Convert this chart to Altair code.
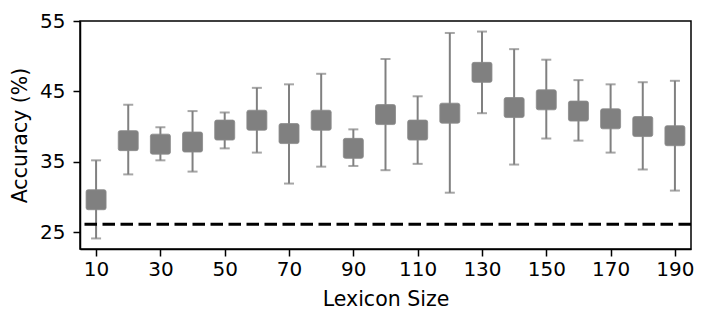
import altair as alt
import pandas as pd

sizes = [10, 20, 30, 40, 50, 60, 70, 80, 90, 100, 110, 120, 130, 140, 150, 160, 170, 180, 190]
means = [29.6, 38.0, 37.5, 37.8, 39.5, 40.9, 39.0, 40.9, 36.9, 41.7, 39.5, 41.9, 47.7, 42.7, 43.8, 42.2, 41.1, 40.0, 38.7]
upper = [35.2, 43.1, 39.9, 42.2, 42.0, 45.5, 46.0, 47.5, 39.6, 49.6, 44.3, 53.3, 53.5, 51.0, 49.5, 46.6, 46.0, 46.3, 46.5]
lower = [24.1, 33.2, 35.2, 33.6, 36.9, 36.3, 31.9, 34.3, 34.4, 33.8, 34.7, 30.6, 41.9, 34.6, 38.3, 38.0, 36.3, 33.9, 30.9]
chance = 26.1
x_ticks = list(range(10, 200, 10))
y_ticks = [25, 30, 35, 40, 45, 50, 55]

df = pd.DataFrame({"size": sizes, "mean": means, "hi": upper, "lo": lower})

FONT = "DejaVu Sans"
GRAY = "#808080"

xscale = alt.Scale(domain=[5, 195], nice=False, zero=False)
yscale = alt.Scale(domain=[22.6, 55], nice=False, zero=False)

xenc = alt.X(
    "size:Q", scale=xscale, title="Lexicon Size",
    axis=alt.Axis(values=x_ticks,
                  labelExpr="(datum.value - 10) % 20 == 0 ? datum.label : ''",
                  labelFlush=False, labelOverlap=False, labelPadding=3, titlePadding=10),
)
yaxis = alt.Axis(values=y_ticks,
                 labelExpr="datum.value % 10 == 5 ? datum.label : ''",
                 labelOverlap=False, labelPadding=8, titlePadding=9)

base = alt.Chart(df)

rules = base.mark_rule(color=GRAY, strokeWidth=2).encode(
    x=xenc,
    y=alt.Y("lo:Q", scale=yscale, title="Accuracy (%)", axis=yaxis),
    y2="hi:Q",
)
cap_hi = base.mark_tick(color=GRAY, orient="horizontal", size=10, thickness=2).encode(
    x="size:Q", y="hi:Q"
)
cap_lo = base.mark_tick(color=GRAY, orient="horizontal", size=10, thickness=2).encode(
    x="size:Q", y="lo:Q"
)
square_path = ("M -0.8 -1 L 0.8 -1 Q 1 -1 1 -0.8 L 1 0.8 Q 1 1 0.8 1 "
               "L -0.8 1 Q -1 1 -1 0.8 L -1 -0.8 Q -1 -1 -0.8 -1 Z")
points = base.mark_point(shape=square_path, filled=True, color=GRAY, opacity=1,
                         size=400, stroke="#8a8a8a", strokeWidth=0.8).encode(
    x="size:Q", y="mean:Q"
)
chance_line = alt.Chart(pd.DataFrame({"c": [chance]})).mark_rule(
    color="black", strokeWidth=3, strokeDash=[12.5, 5.5]
).encode(y="c:Q")

chart = alt.layer(rules, cap_hi, cap_lo, points, chance_line).properties(
    width=611, height=228,
    autosize=alt.AutoSizeParams(type="none"),
    padding={"left": 72, "top": 13, "right": 4, "bottom": 63},
).configure_view(
    stroke="black", strokeWidth=1.5
).configure_axis(
    grid=False, domainColor="black", domainWidth=1.5, tickColor="black",
    tickWidth=1.5, tickSize=7, labelFont=FONT, labelFontSize=20,
    labelColor="black", titleFont=FONT, titleFontSize=20.5,
    titleFontWeight="normal", titleColor="black",
)

chart.save("out.html", embed_options={"renderer": "svg", "actions": False})
